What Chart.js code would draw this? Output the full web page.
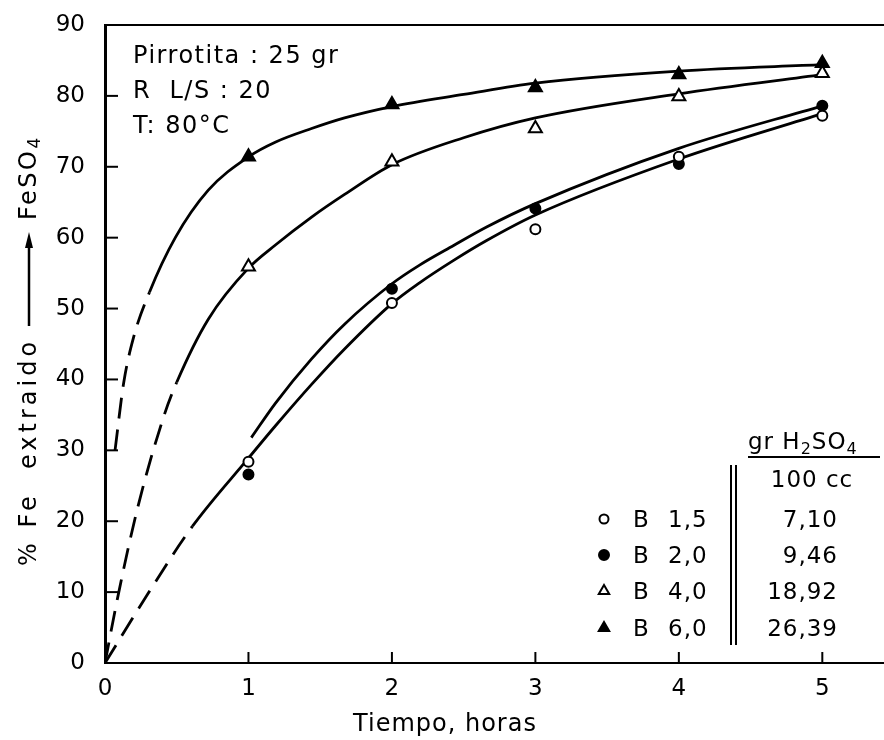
<!DOCTYPE html>
<html>
<head>
<meta charset="utf-8">
<script src="https://cdn.jsdelivr.net/npm/chart.js@4.4.0/dist/chart.umd.min.js"></script>
<style>
  html, body { margin: 0; padding: 0; background: #fff; }
</style>
</head>
<body>
<canvas id="chart" width="884" height="740"></canvas>
<script>
// measured points (hours vs % Fe extracted)
const hours = [1, 2, 3, 4, 5];
const feB15 = [28.4, 50.8, 61.2, 71.4, 77.2];
const feB20 = [26.6, 52.8, 64.1, 70.4, 78.6];
const feB40 = [55.9, 70.7, 75.4, 79.9, 83.2];
const feB60 = [71.4, 78.8, 81.2, 83.0, 84.6];

// fitted curves; first N segments are dashed
const fitB60X = [0.07, 0.13, 0.2, 0.31, 0.49, 0.72, 1, 1.19, 1.44, 1.67, 2, 2.5, 3, 4, 5];
const fitB60Y = [30, 39.5, 46, 52.3, 60.0, 66.7, 71.4, 73.5, 75.4, 76.9, 78.5, 80.2, 81.8, 83.5, 84.4];
const fitB60Dashed = 3;

const fitB40X = [0, 0.09, 0.23, 0.41, 0.50, 0.72, 1, 1.19, 1.44, 1.67, 2, 2.5, 3, 4, 5];
const fitB40Y = [0, 9.4, 22.1, 34.8, 39.6, 48.5, 55.7, 59.0, 62.9, 66.1, 70.3, 74.1, 76.9, 80.3, 83.0];
const fitB40Dashed = 4;

const fitB20X = [1.02, 1.19, 1.44, 1.67, 2, 2.19, 2.43, 2.66, 3, 4, 5];
const fitB20Y = [31.8, 36.7, 42.9, 47.8, 53.5, 56.1, 58.9, 61.5, 64.8, 72.6, 78.6];
const fitB20Dashed = 0;

const fitB15X = [0, 0.3, 0.61, 1, 1.19, 1.44, 1.67, 2, 2.19, 2.43, 2.66, 3, 4, 5];
const fitB15Y = [0, 9.8, 19.3, 28.9, 33.5, 39.3, 44.3, 50.7, 53.6, 56.8, 59.6, 63.2, 71.1, 77.5];
const fitB15Dashed = 2;

const xTicks = [0, 1, 2, 3, 4, 5];
const yTicks = [0, 10, 20, 30, 40, 50, 60, 70, 80, 90];

const legendSym = ['B', 'B', 'B', 'B'];
const legendNum = ['1,5', '2,0', '4,0', '6,0'];
const acidConc = ['7,10', '9,46', '18,92', '26,39'];
const legendMarks = [['circle', false], ['circle', true], ['triangle', false], ['triangle', true]];

const FONT = '"DejaVu Sans", sans-serif';

const zip = (xs, ys) => xs.map((x, i) => ({ x: x, y: ys[i] }));

function curve(xs, ys, nDash) {
    return {
        data: zip(xs, ys),
        showLine: true,
        borderColor: '#000',
        borderWidth: 2.8,
        borderCapStyle: 'butt',
        cubicInterpolationMode: 'monotone',
        segment: {
            borderDash: c => (c.p1DataIndex <= nDash ? [21, 11] : [])
        },
        pointRadius: 0,
        order: 2
    };
}

function marks(ys, style, filled, r) {
    return {
        data: zip(hours, ys),
        showLine: false,
        pointStyle: style,
        pointRadius: r,
        pointBorderWidth: 2,
        pointBorderColor: '#000',
        pointBackgroundColor: filled ? '#000' : '#fff',
        order: 1
    };
}

function drawMark(ctx, style, filled, cx, cy, r) {
    ctx.beginPath();
    if (style === 'circle') {
        ctx.arc(cx, cy, r, 0, Math.PI * 2);
    } else {
        ctx.moveTo(cx, cy - r);
        ctx.lineTo(cx + r * 0.87, cy + r * 0.5);
        ctx.lineTo(cx - r * 0.87, cy + r * 0.5);
        ctx.closePath();
    }
    ctx.fillStyle = filled ? '#000' : '#fff';
    ctx.fill();
    ctx.lineWidth = 2;
    ctx.strokeStyle = '#000';
    ctx.stroke();
}

// text with lowered small characters, e.g. H2SO4
function subText(ctx, parts, x, y, size) {
    let cx = x;
    parts.forEach(p => {
        if (p.sub) {
            ctx.font = Math.round(size * 0.7) + 'px ' + FONT;
            ctx.fillText(p.t, cx, y + size * 0.22);
        } else {
            ctx.font = size + 'px ' + FONT;
            ctx.fillText(p.t, cx, y);
        }
        cx += ctx.measureText(p.t).width;
    });
    return cx;
}

const decor = {
    id: 'decor',
    afterDraw(chart) {
        const ctx = chart.ctx;
        const a = chart.chartArea;
        const xs = chart.scales.x, ys = chart.scales.y;
        ctx.save();
        ctx.strokeStyle = '#000';
        ctx.fillStyle = '#000';
        ctx.lineWidth = 2;

        // top frame line
        ctx.beginPath();
        ctx.moveTo(a.left, a.top);
        ctx.lineTo(a.right, a.top);
        ctx.stroke();

        // ticks point inwards
        yTicks.slice(1, -1).forEach(v => {
            const py = ys.getPixelForValue(v);
            ctx.beginPath();
            ctx.moveTo(a.left, py);
            ctx.lineTo(a.left + 13, py);
            ctx.stroke();
        });
        xTicks.slice(1).forEach(v => {
            const px = xs.getPixelForValue(v);
            ctx.beginPath();
            ctx.moveTo(px, a.bottom);
            ctx.lineTo(px, a.bottom - 11);
            ctx.stroke();
        });

        // conditions note
        ctx.textAlign = 'left';
        ctx.textBaseline = 'alphabetic';
        ctx.font = '24px ' + FONT;
        ctx.letterSpacing = '1.5px';
        ctx.fillText('Pirrotita : 25 gr', 133, 63);
        ctx.fillText('R  L/S : 20', 133, 98);
        ctx.fillText('T: 80°C', 133, 133);

        // x title
        ctx.letterSpacing = '1px';
        ctx.textAlign = 'center';
        ctx.fillText('Tiempo, horas', 445, 731);
        ctx.letterSpacing = '0px';

        // y title, rotated, with arrow
        ctx.save();
        ctx.translate(30, 566);
        ctx.rotate(-Math.PI / 2);
        ctx.textAlign = 'left';
        ctx.textBaseline = 'middle';
        ctx.font = '24px ' + FONT;
        ctx.letterSpacing = '4px';
        ctx.fillText('% Fe  extraido', 0, 0);
        ctx.letterSpacing = '0px';
        ctx.lineWidth = 2.5;
        ctx.beginPath();
        ctx.moveTo(240, -1);
        ctx.lineTo(322, -1);
        ctx.stroke();
        ctx.beginPath();
        ctx.moveTo(334, -1);
        ctx.lineTo(318, -5);
        ctx.lineTo(318, 3);
        ctx.closePath();
        ctx.fill();
        ctx.letterSpacing = '2.5px';
        subText(ctx, [{ t: 'FeSO' }, { t: '4', sub: true }], 346, 0, 24);
        ctx.letterSpacing = '0px';
        ctx.restore();

        // legend block
        ctx.textBaseline = 'alphabetic';
        ctx.letterSpacing = '1px';
        const rowBase = [527, 563, 599, 636];
        legendNum.forEach((num, i) => {
            const m = legendMarks[i];
            drawMark(ctx, m[0], m[1], 604, rowBase[i] - 8, m[0] === 'circle' ? (m[1] ? 5 : 4.5) : 6);
            ctx.fillStyle = '#000';
            ctx.font = '23px ' + FONT;
            ctx.textAlign = 'left';
            ctx.fillText(legendSym[i], 633, rowBase[i]);
            ctx.fillText(num, 668, rowBase[i]);
            ctx.textAlign = 'right';
            ctx.fillText(acidConc[i], 838, rowBase[i]);
        });
        ctx.textAlign = 'left';
        subText(ctx, [{ t: 'gr H' }, { t: '2', sub: true }, { t: 'SO' }, { t: '4', sub: true }], 748, 449, 23);
        ctx.textAlign = 'center';
        ctx.font = '23px ' + FONT;
        ctx.fillText('100 cc', 812, 487);
        ctx.letterSpacing = '0px';

        ctx.lineWidth = 2;
        ctx.beginPath();
        ctx.moveTo(748, 457);
        ctx.lineTo(880, 457);
        ctx.moveTo(731, 465);
        ctx.lineTo(731, 645);
        ctx.moveTo(736, 465);
        ctx.lineTo(736, 645);
        ctx.stroke();
        ctx.restore();
    }
};

const ctx = document.getElementById('chart').getContext('2d');
new Chart(ctx, {
    type: 'scatter',
    data: {
        datasets: [
            marks(feB15, 'circle', false, 5),
            marks(feB20, 'circle', true, 5),
            marks(feB40, 'triangle', false, 7.5),
            marks(feB60, 'triangle', true, 7.5),
            curve(fitB60X, fitB60Y, fitB60Dashed),
            curve(fitB40X, fitB40Y, fitB40Dashed),
            curve(fitB20X, fitB20Y, fitB20Dashed),
            curve(fitB15X, fitB15Y, fitB15Dashed)
        ]
    },
    options: {
        responsive: false,
        animation: false,
        devicePixelRatio: 1,
        layout: { autoPadding: false, padding: { top: 25, right: 0, left: 0, bottom: 0 } },
        plugins: {
            legend: { display: false },
            tooltip: { enabled: false }
        },
        scales: {
            x: {
                type: 'linear',
                min: 0,
                max: 5.43,
                afterBuildTicks: s => { s.ticks = xTicks.map(v => ({ value: v })); },
                afterFit: s => { s.height = 77; s.paddingLeft = 0; s.paddingRight = 0; },
                grid: { display: false, drawTicks: false },
                border: { display: true, color: '#000', width: 2 },
                ticks: { color: '#000', padding: 12, font: { family: FONT, size: 23 } }
            },
            y: {
                min: 0,
                max: 90,
                afterBuildTicks: s => { s.ticks = yTicks.map(v => ({ value: v })); },
                afterFit: s => { s.width = 105; s.paddingTop = 0; s.paddingBottom = 0; },
                grid: { display: false, drawTicks: false },
                border: { display: true, color: '#000', width: 3 },
                ticks: { color: '#000', padding: 20, font: { family: FONT, size: 23 } }
            }
        }
    },
    plugins: [decor]
});
</script>
</body>
</html>
